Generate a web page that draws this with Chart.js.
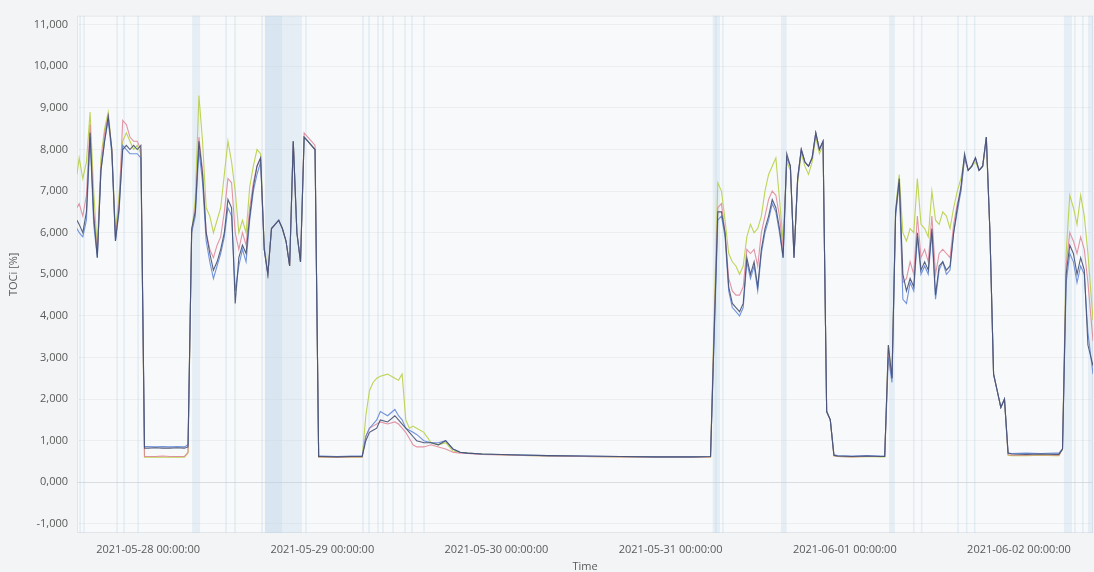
<!DOCTYPE html>
<html>
<head>
<meta charset="utf-8">
<title>TOC trend</title>
<script src="https://cdn.jsdelivr.net/npm/chart.js@4.4.1/dist/chart.umd.min.js"></script>
<style>
    html, body { margin: 0; padding: 0; background: #f3f4f5; }
    canvas { display: block; }
</style>
</head>
<body>
<canvas id="chart" width="1094" height="572"></canvas>
<script>
// hours relative to 2021-05-28 00:00:00
const hours = [
    -9.8, -9.5, -9, -8.5, -8, -7.5, -7, -6.5, -6, -5.5,
    -5, -4.5, -4, -3.5, -3, -2.5, -2, -1.5, -1, -0.5,
    0, 1, 2, 3, 4, 5, 5.5, 6, 6.5, 7,
    7.5, 8, 8.5, 9, 9.5, 10, 10.5, 11, 11.5, 12,
    12.5, 13, 13.5, 14, 14.5, 15, 15.5, 16, 16.5, 17,
    17.5, 18, 18.5, 19, 19.5, 20, 20.5, 21, 21.5, 22,
    22.5, 23, 23.5, 24, 26, 28, 29.5, 30, 30.5, 31,
    31.5, 32, 33, 34, 34.5, 35, 35.5, 36, 36.5, 37,
    38, 39, 40, 41, 42, 43, 44, 46, 50, 55,
    60, 65, 70, 75, 77.5, 78, 78.5, 79, 79.5, 80,
    80.5, 81, 81.5, 82, 82.5, 83, 83.5, 84, 84.5, 85,
    85.5, 86, 86.5, 87, 87.5, 88, 88.5, 89, 89.5, 90,
    90.5, 91, 91.5, 92, 92.5, 93, 93.5, 94, 94.5, 95,
    97, 99, 101, 101.5, 102, 102.5, 103, 103.5, 104, 104.5,
    105, 105.5, 106, 106.5, 107, 107.5, 108, 108.5, 109, 109.5,
    110, 110.5, 111, 111.5, 112, 112.5, 113, 113.5, 114, 114.5,
    115, 115.5, 116, 116.5, 117, 117.5, 118, 118.5, 119, 121,
    123, 125, 125.5, 126, 126.5, 127, 127.5, 128, 128.5, 129,
    129.5, 130.2
];

const tocDark = [
    6.3, 6.2, 6.0, 6.5, 8.4, 6.4, 5.4, 7.5, 8.2, 8.8,
    8.0, 5.8, 6.6, 8.0, 8.1, 8.0, 8.1, 8.0, 8.1, 0.82,
    0.82, 0.83, 0.82, 0.82, 0.83, 0.82, 0.85, 6.1, 6.5, 8.2,
    7.4, 6.0, 5.5, 5.1, 5.3, 5.6, 6.0, 6.8, 6.6, 4.3,
    5.4, 5.7, 5.5, 6.4, 7.1, 7.6, 7.8, 5.6, 5.0, 6.1,
    6.2, 6.3, 6.1, 5.8, 5.2, 8.2, 6.0, 5.3, 8.3, 8.2,
    8.1, 8.0, 0.62, 0.62, 0.61, 0.62, 0.62, 1.0, 1.2, 1.25,
    1.3, 1.5, 1.45, 1.6, 1.5, 1.4, 1.3, 1.2, 1.1, 1.0,
    0.95, 0.95, 0.9, 1.0, 0.8, 0.72, 0.7, 0.68, 0.66, 0.64,
    0.63, 0.62, 0.61, 0.61, 0.62, 3.6, 6.5, 6.5, 6.0, 4.7,
    4.3, 4.2, 4.1, 4.3, 5.4, 5.0, 5.3, 4.7, 5.6, 6.1,
    6.4, 6.8, 6.6, 6.1, 5.4, 7.9, 7.6, 5.4, 7.3, 8.0,
    7.7, 7.6, 7.8, 8.4, 8.0, 8.2, 1.7, 1.5, 0.65, 0.63,
    0.62, 0.63, 0.62, 0.62, 3.3, 2.5, 6.5, 7.3, 5.0, 4.6,
    4.9, 4.7, 6.0, 5.1, 5.3, 5.1, 6.1, 4.5, 5.2, 5.3,
    5.1, 5.2, 6.0, 6.6, 7.1, 7.9, 7.5, 7.6, 7.8, 7.5,
    7.6, 8.3, 6.0, 2.6, 2.2, 1.8, 2.0, 0.7, 0.68, 0.67,
    0.68, 0.67, 0.67, 0.8, 5.0, 5.7, 5.5, 5.0, 5.4, 5.1,
    3.3, 2.8
];

const tocGreen = [
    7.4, 7.8, 7.3, 7.7, 8.9, 7.0, 5.6, 7.8, 8.5, 8.9,
    8.0, 6.0, 6.9, 8.2, 8.4, 8.2, 8.0, 8.1, 7.9, 0.6,
    0.6, 0.61, 0.6, 0.6, 0.61, 0.6, 0.7, 6.0, 6.8, 9.3,
    8.2, 6.6, 6.4, 6.0, 6.3, 6.6, 7.4, 8.2, 7.7, 7.0,
    6.0, 6.3, 6.0, 7.1, 7.6, 8.0, 7.9, 5.7, 5.0, 6.1,
    6.2, 6.3, 6.1, 5.8, 5.2, 8.2, 6.0, 5.3, 8.3, 8.2,
    8.1, 8.0, 0.6, 0.6, 0.6, 0.6, 0.6, 1.6, 2.2, 2.4,
    2.5, 2.55, 2.6, 2.5, 2.45, 2.6, 1.5, 1.3, 1.35, 1.3,
    1.2, 0.95, 0.9, 0.95, 0.75, 0.72, 0.7, 0.68, 0.65, 0.63,
    0.62, 0.61, 0.6, 0.6, 0.6, 4.0, 7.2, 7.0, 6.3, 5.5,
    5.3, 5.2, 5.0, 5.2, 5.9, 6.2, 6.0, 6.1, 6.4, 7.0,
    7.4, 7.6, 7.8, 6.8, 5.8, 7.7, 7.5, 5.5, 7.2, 7.9,
    7.6, 7.4, 7.7, 8.3, 7.9, 8.1, 1.7, 1.5, 0.63, 0.62,
    0.61, 0.62, 0.61, 0.61, 3.3, 2.5, 6.6, 7.4, 6.0, 5.8,
    6.1, 6.0, 7.3, 6.2, 6.1, 5.9, 7.0, 6.3, 6.2, 6.5,
    6.4, 6.1, 6.6, 7.0, 7.3, 7.8, 7.5, 7.6, 7.7, 7.5,
    7.6, 8.2, 6.0, 2.6, 2.2, 1.8, 2.0, 0.65, 0.64, 0.64,
    0.65, 0.64, 0.64, 0.8, 5.5, 6.9, 6.6, 6.2, 6.9, 6.4,
    5.5, 3.9
];

const tocPink = [
    6.6, 6.7, 6.4, 6.9, 8.6, 6.5, 5.5, 7.6, 8.4, 8.8,
    8.0, 5.9, 6.7, 8.7, 8.6, 8.3, 8.2, 8.2, 8.0, 0.62,
    0.62, 0.62, 0.63, 0.62, 0.62, 0.62, 0.72, 6.0, 6.6, 8.3,
    7.5, 6.0, 5.6, 5.4, 5.7, 5.9, 6.5, 7.3, 7.2, 6.0,
    5.6, 6.0, 5.7, 6.6, 7.2, 7.6, 7.8, 5.6, 5.0, 6.1,
    6.2, 6.3, 6.1, 5.8, 5.2, 8.2, 6.0, 5.3, 8.4, 8.3,
    8.2, 8.1, 0.61, 0.61, 0.6, 0.61, 0.61, 1.1, 1.3, 1.35,
    1.4, 1.45, 1.4, 1.45, 1.4, 1.3, 1.2, 1.05, 0.9, 0.85,
    0.85, 0.9, 0.85, 0.8, 0.72, 0.7, 0.69, 0.67, 0.65, 0.63,
    0.62, 0.61, 0.6, 0.6, 0.61, 3.8, 6.6, 6.7, 6.0, 4.9,
    4.6, 4.5, 4.5, 4.7, 5.6, 5.5, 5.6, 5.2, 6.0, 6.4,
    6.8, 7.0, 6.9, 6.4, 5.6, 7.8, 7.6, 5.4, 7.3, 8.0,
    7.7, 7.6, 7.8, 8.4, 8.0, 8.2, 1.7, 1.5, 0.64, 0.62,
    0.61, 0.62, 0.62, 0.62, 3.2, 2.5, 6.5, 7.2, 4.8, 4.9,
    5.3, 5.0, 6.4, 5.4, 5.6, 5.3, 6.4, 5.0, 5.5, 5.6,
    5.5, 5.4, 6.2, 6.7, 7.0, 7.8, 7.5, 7.6, 7.8, 7.5,
    7.6, 8.3, 6.0, 2.6, 2.2, 1.8, 2.0, 0.66, 0.65, 0.65,
    0.66, 0.65, 0.65, 0.8, 5.2, 6.0, 5.8, 5.5, 5.9, 5.6,
    4.8, 3.4
];

const tocBlue = [
    6.1, 6.0, 5.9, 6.3, 8.3, 6.2, 5.4, 7.5, 8.2, 8.7,
    7.9, 5.8, 6.5, 8.1, 8.0, 7.9, 7.9, 7.9, 7.8, 0.86,
    0.86, 0.85, 0.86, 0.85, 0.86, 0.85, 0.9, 6.0, 6.4, 8.0,
    7.2, 5.8, 5.3, 4.9, 5.2, 5.5, 5.9, 6.6, 6.4, 4.6,
    5.2, 5.6, 5.3, 6.3, 7.0, 7.4, 7.7, 5.6, 5.0, 6.1,
    6.2, 6.3, 6.1, 5.8, 5.2, 8.2, 6.0, 5.3, 8.3, 8.2,
    8.1, 8.0, 0.63, 0.63, 0.62, 0.63, 0.63, 1.1, 1.3, 1.4,
    1.5, 1.7, 1.6, 1.75, 1.6, 1.5, 1.3, 1.25, 1.2, 1.15,
    1.0, 0.95, 0.95, 1.0, 0.8, 0.72, 0.7, 0.68, 0.66, 0.64,
    0.63, 0.62, 0.61, 0.61, 0.62, 3.5, 6.3, 6.4, 5.9, 4.6,
    4.2, 4.1, 4.0, 4.2, 5.3, 4.9, 5.2, 4.6, 5.5, 6.0,
    6.3, 6.7, 6.5, 6.0, 5.4, 7.8, 7.6, 5.4, 7.3, 8.0,
    7.7, 7.6, 7.8, 8.4, 8.0, 8.2, 1.7, 1.5, 0.66, 0.64,
    0.63, 0.64, 0.63, 0.63, 3.0, 2.4, 6.4, 7.2, 4.4, 4.3,
    4.8, 4.6, 5.9, 5.0, 5.2, 5.0, 6.0, 4.4, 5.1, 5.3,
    5.0, 5.1, 6.0, 6.5, 7.0, 7.8, 7.5, 7.6, 7.8, 7.5,
    7.6, 8.3, 6.0, 2.6, 2.2, 1.8, 2.0, 0.7, 0.69, 0.7,
    0.69, 0.7, 0.7, 0.8, 4.8, 5.5, 5.3, 4.8, 5.2, 5.0,
    3.6, 2.6
];

// shaded event windows and single event markers, in hours
const bandStart = [6.06, 16.1, 16.1, 77.8, 87.2, 102.1, 126.2, 129.5];
const bandEnd = [7.16, 20.94, 18.46, 78.8, 88.0, 102.9, 127.3, 130.2];
const markerHours = [
    -9.37, -8.82, -4.27, -3.31, -1.38, 10.74, 11.98, 15.7, 21.07, 21.76,
    29.61, 30.44, 31.68, 32.37, 33.75, 35.4, 36.36, 38.02,
    78.24, 79.2, 105.5, 106.6, 111.6, 112.8, 113.9, 127.7, 128.8
];

const dayTicks = [0, 24, 48, 72, 96, 120];
const yTicks = [-1, 0, 1, 2, 3, 4, 5, 6, 7, 8, 9, 10, 11];

const startMs = Date.UTC(2021, 4, 28);

function pad(n) {
    return String(n).padStart(2, "0");
}

function timeLabel(h) {
    const d = new Date(startMs + h * 3600000);
    return d.getUTCFullYear() + "-" + pad(d.getUTCMonth() + 1) + "-" + pad(d.getUTCDate()) +
        " " + pad(d.getUTCHours()) + ":" + pad(d.getUTCMinutes()) + ":" + pad(d.getUTCSeconds());
}

function toPoints(values) {
    return hours.map((h, i) => ({ x: h, y: values[i] }));
}

const backgroundPlugin = {
    id: "plotBackground",
    beforeDraw(chart) {
        const { ctx, chartArea: a } = chart;
        ctx.save();
        ctx.fillStyle = "#f3f4f5";
        ctx.fillRect(0, 0, chart.width, chart.height);
        ctx.fillStyle = "#f8f9fa";
        ctx.fillRect(a.left, a.top, a.right - a.left, a.bottom - a.top);
        ctx.strokeStyle = "#e3e5e8";
        ctx.lineWidth = 1;
        ctx.strokeRect(a.left + 0.5, a.top + 0.5, a.right - a.left - 1, a.bottom - a.top - 1);
        ctx.restore();
    },
    beforeDatasetsDraw(chart) {
        const { ctx, chartArea: a, scales: { x } } = chart;
        ctx.save();
        ctx.beginPath();
        ctx.rect(a.left, a.top, a.right - a.left, a.bottom - a.top);
        ctx.clip();
        ctx.fillStyle = "rgba(184, 212, 234, 0.28)";
        bandStart.forEach((s, i) => {
            const x0 = x.getPixelForValue(s);
            const x1 = x.getPixelForValue(bandEnd[i]);
            ctx.fillRect(x0, a.top, x1 - x0, a.bottom - a.top);
        });
        ctx.fillStyle = "rgba(184, 212, 234, 0.32)";
        markerHours.forEach(h => {
            const px = x.getPixelForValue(h);
            ctx.fillRect(px - 0.8, a.top, 1.6, a.bottom - a.top);
        });
        ctx.restore();
    }
};

const tickFont = { family: "'Open Sans', 'DejaVu Sans', sans-serif", size: 11 };

const ctx = document.getElementById("chart").getContext("2d");

new Chart(ctx, {
    type: "line",
    data: {
        datasets: [
            { label: "TOC 4", data: toPoints(tocDark), borderColor: "rgba(70, 80, 112, 0.9)" },
            { label: "TOC 3", data: toPoints(tocBlue), borderColor: "rgba(92, 130, 214, 0.85)" },
            { label: "TOC 2", data: toPoints(tocPink), borderColor: "rgba(222, 132, 150, 0.85)" },
            { label: "TOC 1", data: toPoints(tocGreen), borderColor: "rgba(184, 207, 70, 0.9)" }
        ]
    },
    options: {
        responsive: false,
        animation: false,
        parsing: false,
        layout: { padding: { top: 13, right: 1, left: 0, bottom: 0 } },
        elements: {
            point: { radius: 0 },
            line: { borderWidth: 1.1, tension: 0, fill: false }
        },
        plugins: {
            legend: { display: false },
            tooltip: { enabled: false }
        },
        scales: {
            x: {
                type: "linear",
                min: -9.8,
                max: 130.2,
                grid: { display: false, drawTicks: false },
                border: { display: false },
                afterBuildTicks: scale => {
                    scale.ticks = dayTicks.map(v => ({ value: v }));
                },
                afterFit: scale => {
                    scale.height = 39;
                },
                ticks: {
                    padding: 10,
                    maxRotation: 0,
                    autoSkip: false,
                    color: "#5a5a5a",
                    font: tickFont,
                    callback: v => timeLabel(v)
                },
                title: {
                    display: true,
                    text: "Time",
                    color: "#5a5a5a",
                    font: tickFont,
                    padding: { top: 0, bottom: -1 }
                }
            },
            y: {
                min: -1.22,
                max: 11.22,
                grid: {
                    drawTicks: false,
                    color: c => (c.tick && c.tick.value === 0 ? "#d9dce0" : "#eceef0")
                },
                border: { display: false },
                afterBuildTicks: scale => {
                    scale.ticks = yTicks.map(v => ({ value: v }));
                },
                afterFit: scale => {
                    scale.width = 77;
                },
                ticks: {
                    padding: 9,
                    color: "#5a5a5a",
                    font: tickFont,
                    callback: v => v.toFixed(3).replace(".", ",")
                },
                title: {
                    display: true,
                    text: "TOCi [%]",
                    color: "#5a5a5a",
                    font: tickFont,
                    padding: { top: 7, bottom: 0 }
                }
            }
        }
    },
    plugins: [backgroundPlugin]
});
</script>
</body>
</html>
